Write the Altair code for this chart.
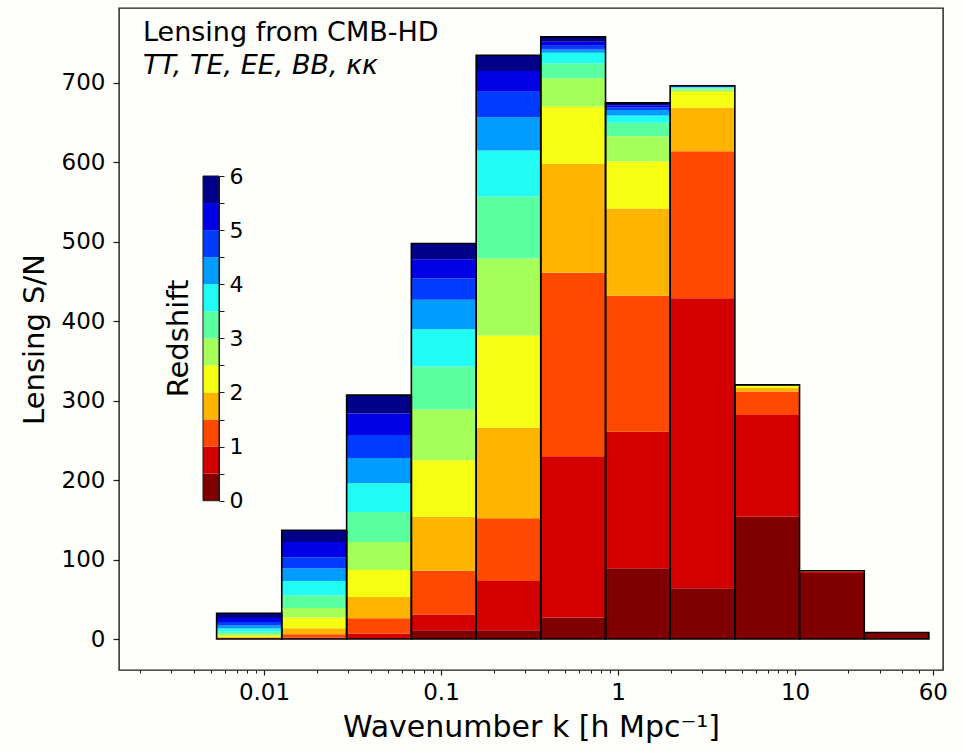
import altair as alt
import pandas as pd

# ---------------- data ----------------
# bin edges in k [h/Mpc]
k_edges = [0.0054, 0.0126, 0.0293, 0.068, 0.158, 0.366, 0.85, 1.97, 4.57, 10.6, 24.6, 57.0]

# redshift band edges (colorbar)
z_edges = [0.0, 0.5, 1.0, 1.5, 2.0, 2.5, 3.0, 3.5, 4.0, 4.5, 5.0, 5.5, 6.0]
band_colors = ["#800000", "#d40000", "#ff4800", "#ffb400", "#f6ff12", "#a4ff58",
               "#5affa0", "#20fbf4", "#009cff", "#003cff", "#0000e6", "#000088"]

# cumulative lensing S/N (top of each redshift band, z=0 -> z=6) for each k bin
cum_bin01 = [0.4, 0.9, 1.6, 2.6, 4.2, 6.6, 9.6, 13.2, 17.0, 21.5, 26.6, 32.5]
cum_bin02 = [0.5, 2.0, 6.0, 13.5, 27.0, 39.0, 55.0, 73.0, 89.0, 103.0, 122.0, 137.0]
cum_bin03 = [1.0, 7.0, 26.0, 53.0, 87.0, 122.0, 160.0, 196.0, 228.0, 257.0, 284.0, 307.0]
cum_bin04 = [11.0, 31.0, 86.0, 154.0, 225.0, 289.0, 343.0, 390.0, 427.0, 454.0, 478.0, 498.0]
cum_bin05 = [11.0, 73.0, 152.0, 266.0, 382.0, 479.0, 557.0, 615.0, 657.0, 689.0, 715.0, 735.0]
cum_bin06 = [27.0, 230.0, 461.0, 598.0, 670.0, 706.0, 725.0, 738.0, 742.0, 747.0, 752.0, 758.0]
cum_bin07 = [89.0, 261.0, 432.0, 542.0, 601.0, 633.0, 650.0, 659.0, 666.0, 669.0, 672.0, 675.0]
cum_bin08 = [64.0, 429.0, 614.0, 669.0, 689.0, 692.0, 693.5, 694.5, 695.0, 695.5, 696.0, 696.5]
cum_bin09 = [154.0, 282.0, 311.5, 316.0, 318.5, 319.0, 319.3, 319.5, 319.6, 319.7, 319.8, 320.0]
cum_bin10 = [83.0, 85.0, 85.3, 85.5, 85.6, 85.7, 85.75, 85.8, 85.85, 85.9, 85.95, 86.0]
cum_bin11 = [7.6, 7.8, 7.9, 7.95, 8.0, 8.02, 8.04, 8.06, 8.08, 8.1, 8.12, 8.15]

cum_tops = [cum_bin01, cum_bin02, cum_bin03, cum_bin04, cum_bin05, cum_bin06,
            cum_bin07, cum_bin08, cum_bin09, cum_bin10, cum_bin11]

x_major = [0.01, 0.1, 1, 10, 60]
x_minor = [0.002, 0.003, 0.004, 0.005, 0.006, 0.007, 0.008, 0.009,
           0.02, 0.03, 0.04, 0.05, 0.06, 0.07, 0.08, 0.09,
           0.2, 0.3, 0.4, 0.5, 0.6, 0.7, 0.8, 0.9,
           2, 3, 4, 5, 6, 7, 8, 9, 20, 30, 40, 50]
y_ticks = [0, 100, 200, 300, 400, 500, 600, 700]
cb_ticks = [0, 0.5, 1, 1.5, 2, 2.5, 3, 3.5, 4, 4.5, 5, 5.5, 6]

title_line1 = "Lensing from CMB-HD"
title_line2 = "TT, TE, EE, BB, κκ"

# ---------------- tables ----------------
rows = []
for b, tops in enumerate(cum_tops):
    lo = 0.0
    for j, top in enumerate(tops):
        rows.append(dict(k0=k_edges[b], k1=k_edges[b + 1], s0=lo, s1=top, band=j))
        lo = top
bars_df = pd.DataFrame(rows)
tot_df = pd.DataFrame(dict(k0=k_edges[:-1], k1=k_edges[1:],
                           total=[t[-1] for t in cum_tops], base=[0.0] * len(cum_tops)))
cb_df = pd.DataFrame(dict(z0=z_edges[:-1], z1=z_edges[1:], band=list(range(12))))
cb_out_df = pd.DataFrame(dict(z0=[z_edges[0]], z1=[z_edges[-1]]))

FONT = "DejaVu Sans"
INK = "#1a1a1a"

xscale = alt.Scale(type="log", domain=[0.001517, 68.5], nice=False)
yscale = alt.Scale(domain=[-39.0, 794.4], nice=False, zero=False)
cscale = alt.Scale(domain=list(range(12)), range=band_colors)
cbscale = alt.Scale(domain=[0, 6], range=[492.7, 168.0], nice=False, zero=False)

y_axis = alt.Axis(values=y_ticks, title="Lensing S/N", labelFontSize=23, orient="left",
                  titleFontSize=29, tickSize=6, tickWidth=1.2, labelPadding=8,
                  titlePadding=12)
cb_axis = alt.Axis(orient="right", offset=-724, values=cb_ticks,
                   labelExpr="datum.value % 1 == 0 ? format(datum.value, 'd') : ''",
                   labelFontSize=22, tickSize=5, tickWidth=1.0, labelPadding=5,
                   domain=True, domainColor=INK, labelOverlap=False,
                   labelFlush=False,
                   title="Redshift", titleFontSize=29, titleFontWeight="normal",
                   titleAngle=270, titleX=-41, titleY=330,
                   titleAlign="center", titleBaseline="middle")

bars = alt.Chart(bars_df).mark_rect(strokeWidth=0).encode(
    x=alt.X("k0:Q", scale=xscale,
            axis=alt.Axis(values=x_major, format="~g", title="Wavenumber k [h Mpc⁻¹]",
                          orient="bottom",
                          labelFontSize=23, titleFontSize=30, tickSize=5, tickWidth=1.2,
                          labelPadding=6, titlePadding=8, labelFlush=False,
                          labelOverlap=False)),
    x2="k1:Q",
    y=alt.Y("s0:Q", scale=yscale, axis=y_axis),
    y2="s1:Q",
    color=alt.Color("band:O", scale=cscale, legend=None),
)

outline = alt.Chart(tot_df).mark_rect(fillOpacity=0, stroke="#000000", strokeWidth=1.6).encode(
    x=alt.X("k0:Q", scale=xscale,
            axis=alt.Axis(values=x_minor, labels=False, title=None, tickSize=3,
                          orient="bottom", tickWidth=1.0, domain=False)),
    x2="k1:Q",
    y=alt.Y("base:Q", scale=yscale, axis=y_axis),
    y2="total:Q",
)

main = alt.layer(bars, outline).resolve_axis(x="independent")

cb_bands = alt.Chart(cb_df).mark_rect(strokeWidth=0).encode(
    x=alt.value(84), x2=alt.value(100),
    y=alt.Y("z0:Q", scale=cbscale, axis=cb_axis),
    y2="z1:Q",
    color=alt.Color("band:O", scale=cscale, legend=None),
)
cb_out = alt.Chart(cb_out_df).mark_rect(fillOpacity=0, stroke=INK, strokeWidth=1.0).encode(
    x=alt.value(84), x2=alt.value(100),
    y=alt.Y("z0:Q", scale=cbscale, axis=cb_axis),
    y2="z1:Q",
)
cbar = alt.layer(cb_bands, cb_out)

txt1 = alt.Chart(pd.DataFrame(dict(t=[title_line1]))).mark_text(
    align="left", baseline="alphabetic", fontSize=27, font=FONT, color="#000000"
).encode(x=alt.value(24), y=alt.value(33), text="t:N")
txt2 = alt.Chart(pd.DataFrame(dict(t=[title_line2]))).mark_text(
    align="left", baseline="alphabetic", fontSize=27, font=FONT, fontStyle="italic",
    color="#000000"
).encode(x=alt.value(24), y=alt.value(66), text="t:N")

chart = alt.layer(main, cbar, txt1, txt2).resolve_scale(y="independent").properties(
    width=824, height=662,
    padding={"left": 119, "top": 8, "right": 20, "bottom": 83},
    autosize=alt.AutoSizeParams(type="none"),
    background="#fefefb",
).configure_view(
    stroke=INK, strokeWidth=1.4
).configure_axis(
    grid=False, domain=False, labelFont=FONT, titleFont=FONT, labelColor="#000000",
    titleColor="#000000", tickColor=INK, titleFontWeight="normal"
)

chart.save("out.html", embed_options={"renderer": "svg", "actions": False})
